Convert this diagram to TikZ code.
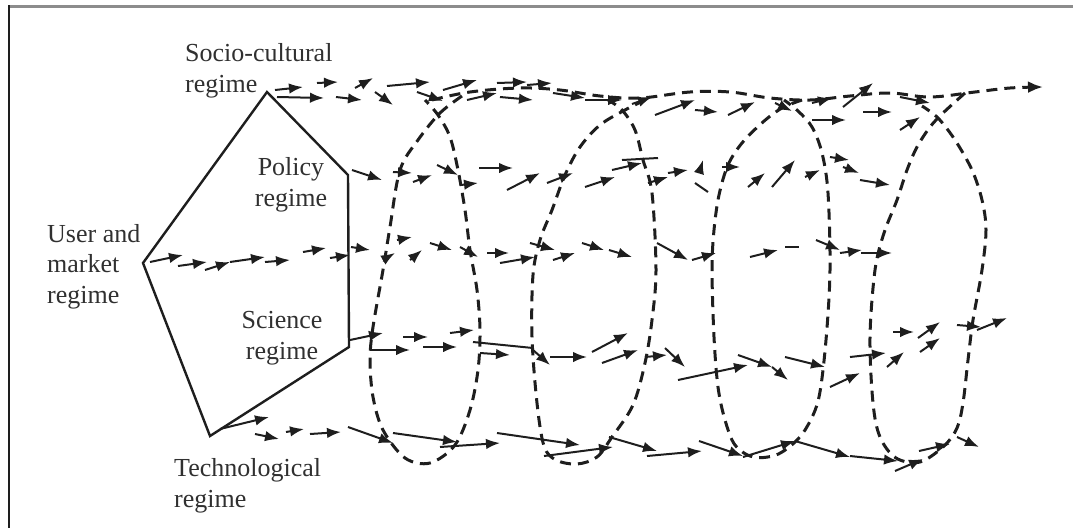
\documentclass[tikz,border=0pt]{standalone}
\usepackage{fontspec}
\setmainfont{Liberation Serif}
\usetikzlibrary{arrows.meta}
\definecolor{ink}{HTML}{1E1E1E}
\definecolor{txt}{HTML}{303030}
\tikzset{
  arr/.style={draw=ink, line width=2pt, -{Latex[length=14pt,width=10.5pt]}},
  plainline/.style={draw=ink, line width=2pt},
  coil/.style={draw=ink, line width=3pt, dash pattern=on 11pt off 7pt},
  regime/.style={font=\fontsize{26}{30.5}\selectfont, text=txt, inner sep=0pt},
  hull/.style={draw=ink, line width=2.4pt, line join=miter},
}
\begin{document}
\begin{tikzpicture}[x=1pt,y=-1pt]
\useasboundingbox (0,0) rectangle (1073,528);
% frame
\draw[draw=black!45, line width=3pt] (8,6) -- (1073,6);
\draw[draw=ink, line width=2.5pt] (9,5) -- (9,528);

% pentagon corners
\coordinate (soc) at (267,92);
\coordinate (pol) at (348,175);
\coordinate (sci) at (349,347);
\coordinate (tec) at (210,436);
\coordinate (usr) at (143,263);
\draw[hull] (soc) -- (pol) -- (sci) -- (tec) -- (usr) -- cycle;

% labels (base = baseline of the last line)
\node[regime, anchor=base west, align=left] (lsoc) at (185,92) {Socio-cultural\\regime};
\node[regime, anchor=base, align=center] (lpol) at (291,206) {Policy\\regime};
\node[regime, anchor=base west, align=left] (lusr) at (47,303) {User and\\market\\regime};
\node[regime, anchor=base, align=center] (lsci) at (282,359) {Science\\regime};
\node[regime, anchor=base west, align=left] (ltec) at (174,507) {Technological\\regime};

% dashed coil: top strand
\draw[coil, -{Latex[length=15pt,width=12pt]}] plot[smooth, tension=0.6] coordinates {
  (432,100) (470,92) (520,88) (560,90) (600,96) (640,98) (690,92) (730,92) (770,98) (810,100) (850,96) (890,93) (930,97) (975,92) (1010,88) (1043,87)};

% loop 1
\draw[coil] plot[smooth, tension=0.55] coordinates {
  (462,96) (440,113) (418,140) (400,170) (390,227) (383,270) (373,327) (370,360) (373,397) (383,430) (405,458) (430,463) (455,445) (470,410) (478,370) (480,330) (477,290) (470,250) (465,210) (458,170) (450,137) (438,115) (425,100)};
% loop 2
\draw[coil] plot[smooth, tension=0.55] coordinates {
  (645,100) (625,110) (600,125) (580,147) (565,175) (552,210) (540,240) (533,275) (532,337) (537,403) (544,446) (556,460) (577,464) (597,457) (612,437) (633,405) (645,363) (652,320) (656,270) (652,193) (643,160) (635,130) (622,110) (608,100)};
% loop 3
\draw[coil] plot[smooth, tension=0.55] coordinates {
  (802,100) (782,108) (763,122) (742,143) (728,165) (719,195) (714,230) (712,270) (714,337) (718,387) (725,420) (735,445) (753,457) (776,455) (795,442) (808,425) (819,397) (826,340) (830,270) (828,193) (822,153) (812,127) (798,111) (784,100)};
% loop 4
\draw[coil] plot[smooth, tension=0.55] coordinates {
  (965,93) (943,113) (930,127) (917,147) (907,170) (897,200) (884,233) (875,270) (870,337) (873,403) (880,437) (896,458) (920,462) (944,446) (957,428) (963,403) (968,360) (973,320) (982,270) (986,230) (982,200) (972,170) (955,140) (938,118) (922,106)};

% socio-cultural strand
\foreach \a/\b/\c/\d in {
  275/90/303/87, 277/97/324/98, 317/83/338/82, 336/97/362/100, 355/88/373/78,
  375/92/393/105, 387/86/430/82, 417/92/443/101, 443/90/477/80, 467/100/497/93,
  497/83/527/82, 500/97/533/100, 527/85/552/83, 553/93/585/98, 585/100/622/100,
  632/104/652/97, 655/115/695/100, 695/110/718/112, 728/115/755/102, 775/103/792/111,
  812/103/832/98, 812/120/846/120, 843/107/873/83, 863/112/892/112, 900/97/930/103,
  900/130/920/117}
  \draw[arr] (\a,\b) -- (\c,\d);

% policy strand
\foreach \a/\b/\c/\d in {
  352/170/382/180, 393/172/412/173, 413/182/432/175, 437/165/458/175, 461/185/478/183,
  479/168/513/168, 507/190/540/173, 547/183/573/173, 585/187/615/177, 612/170/642/163,
  648/183/668/177, 668/173/688/170, 700/170/703/160, 722/167/740/167, 748/187/765/173,
  772/187/795/160, 805/177/820/170, 830/157/849/160, 843/167/859/173, 860/180/890/185}
  \draw[arr] (\a,\b) -- (\c,\d);
\draw[plainline] (622,160) -- (658,158);
\draw[plainline] (695,183) -- (708,192);

% user and market strand
\foreach \a/\b/\c/\d in {
  150/262/183/255, 178/266/207/262, 205/270/230/262, 230/262/265/257, 265/262/290/260,
  303/252/326/248, 330/258/350/255, 351/247/370/250, 383/260/395/253, 397/240/412/237,
  410/260/422/250, 430/243/452/250, 460/247/478/257, 487/253/509/253, 500/263/535/257,
  530/243/555/250, 553/260/575/253, 582/243/604/250, 609/250/632/257, 657/243/688/260,
  692/260/716/253, 750/257/778/250, 816/240/840/250, 840/253/862/250, 861/253/892/253}
  \draw[arr] (\a,\b) -- (\c,\d);
\draw[plainline] (785,247) -- (799,247);

% science strand
\foreach \a/\b/\c/\d in {
  350/340/383/333, 370/350/410/350, 403/337/428/337, 423/347/457/347, 450/333/474/330,
  480/353/510/355, 533/350/550/365, 550/357/587/357, 592/352/628/333, 602/363/638/350,
  645/357/667/355, 665/348/685/367, 678/380/748/365, 738/355/772/367, 772/367/788/380,
  785/357/825/367, 830/387/860/373, 850/357/886/353, 887/367/904/352, 893/332/914/332,
  918/338/940/322, 920/352/940/338, 957/325/981/327, 977/330/1007/318}
  \draw[arr] (\a,\b) -- (\c,\d);
\draw[plainline] (473,342) -- (533,348);

% technological strand
\foreach \a/\b/\c/\d in {
  220/429/269/417, 255/434/279/439, 286/432/304/429, 310/434/341/432, 348/427/393/443,
  393/433/457/442, 440/447/500/443, 497/433/580/445, 544/456/613/447, 609/437/657/451,
  647/456/702/451, 699/441/743/456, 743/457/795/441, 795/441/850/457, 850/456/898/461,
  895/471/923/459, 919/451/950/444, 957/437/979/447}
  \draw[arr] (\a,\b) -- (\c,\d);
\end{tikzpicture}
\end{document}
